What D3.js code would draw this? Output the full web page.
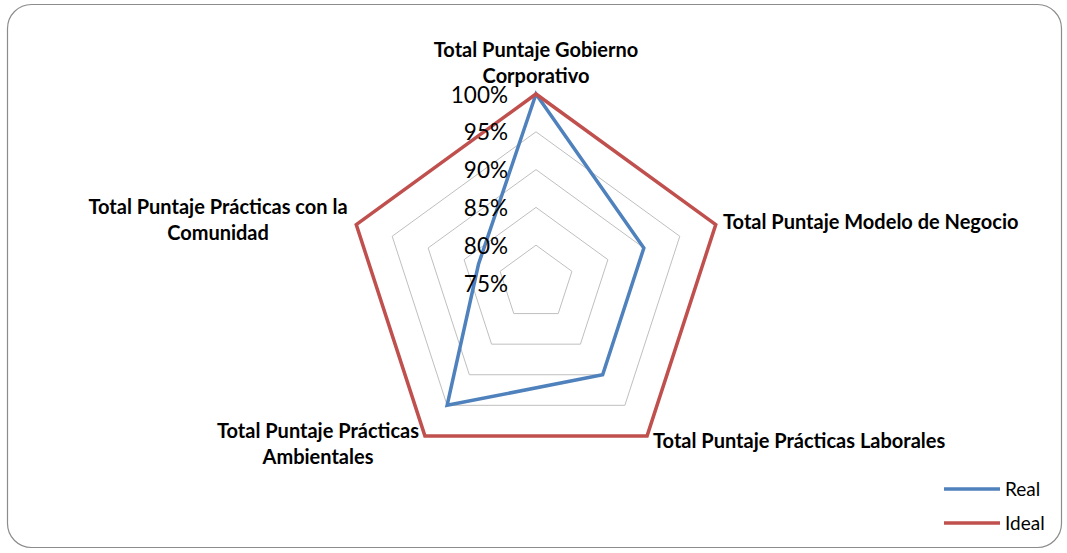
<!DOCTYPE html>
<html>
<head>
<meta charset="utf-8">
<script src="https://cdn.jsdelivr.net/npm/d3@7/dist/d3.min.js"></script>
<style>
  html, body { margin: 0; padding: 0; background: #fff; }
  svg { display: block; }
</style>
</head>
<body>
<svg id="chart" width="1067" height="553"></svg>
<script>
// ---- Data ----
const categories = [
  ["Total Puntaje Gobierno", "Corporativo"],
  ["Total Puntaje Modelo de Negocio"],
  ["Total Puntaje Prácticas Laborales"],
  ["Total Puntaje Prácticas", "Ambientales"],
  ["Total Puntaje Prácticas con la", "Comunidad"]
];
const seriesNames = ["Real", "Ideal"];
const realValues = [1.00, 0.90, 0.90, 0.95, 0.83];
const idealValues = [1.00, 1.00, 1.00, 1.00, 1.00];
const tickValues = [0.75, 0.80, 0.85, 0.90, 0.95, 1.00];
const seriesColors = ["#4F81BD", "#C0504D"];

// ---- Layout ----
const W = 1067, H = 553;
const cx = 536, cy = 283, R = 189;
const svg = d3.select("#chart");

// Border
svg.append("rect")
  .attr("x", 7.5).attr("y", 4.5)
  .attr("width", 1054).attr("height", 543)
  .attr("rx", 24).attr("ry", 24)
  .attr("fill", "#fff").attr("stroke", "#8c8c8c").attr("stroke-width", 1.2);

const r = d3.scaleLinear().domain([0.75, 1.0]).range([0, R]);
const n = categories.length;
const angle = d3.scaleLinear().domain([0, n]).range([0, 2 * Math.PI]);

const g = svg.append("g").attr("transform", `translate(${cx},${cy})`);

const radial = d3.lineRadial()
  .angle((d, i) => angle(i))
  .radius(d => r(d))
  .curve(d3.curveLinearClosed);

// Gridlines
g.selectAll("path.grid")
  .data(tickValues.filter(t => t > 0.75))
  .join("path")
  .attr("class", "grid")
  .attr("d", t => radial(d3.range(n).map(() => t)))
  .attr("fill", "none")
  .attr("stroke", "#bfbfbf")
  .attr("stroke-width", 1);

// Series
const allSeries = [realValues, idealValues];
g.selectAll("path.series")
  .data(allSeries)
  .join("path")
  .attr("class", "series")
  .attr("d", d => radial(d))
  .attr("fill", "none")
  .attr("stroke", (d, i) => seriesColors[i])
  .attr("stroke-width", 3.5)
  .attr("stroke-linejoin", "miter");

// Tick labels
const fmt = d3.format(".0%");
g.selectAll("text.tick")
  .data(tickValues)
  .join("text")
  .attr("class", "tick")
  .attr("x", -28)
  .attr("y", t => -r(t) + 8.5)
  .attr("text-anchor", "end")
  .attr("font-family", "Lato, 'Open Sans', sans-serif")
  .attr("font-size", 22.5)
  .attr("fill", "#000")
  .text(t => fmt(t));

// Category labels
const labelPos = [
  { x: 536, y: 57, anchor: "middle" },
  { x: 723, y: 229, anchor: "start" },
  { x: 653, y: 448, anchor: "start" },
  { x: 318, y: 438, anchor: "middle" },
  { x: 218, y: 214, anchor: "middle" }
];
const lineH = 25.5;
categories.forEach((lines, i) => {
  const p = labelPos[i];
  const t = svg.append("text")
    .attr("text-anchor", p.anchor)
    .attr("font-family", "Lato, 'Open Sans', sans-serif")
    .attr("font-weight", "bold")
    .attr("font-size", 20)
    .attr("fill", "#000");
  lines.forEach((s, j) => {
    t.append("tspan").attr("x", p.x).attr("y", p.y + j * lineH).text(s);
  });
});

// Legend
const legend = svg.append("g").attr("transform", "translate(944,489)");
seriesNames.forEach((name, i) => {
  const row = legend.append("g").attr("transform", `translate(0,${i * 34})`);
  row.append("line")
    .attr("x1", 0).attr("x2", 56)
    .attr("y1", 0).attr("y2", 0)
    .attr("stroke", seriesColors[i]).attr("stroke-width", 3.5);
  row.append("text")
    .attr("x", 61).attr("y", 7)
    .attr("font-family", "Lato, 'Open Sans', sans-serif")
    .attr("font-size", 19)
    .attr("fill", "#000")
    .text(name);
});
</script>
</body>
</html>
